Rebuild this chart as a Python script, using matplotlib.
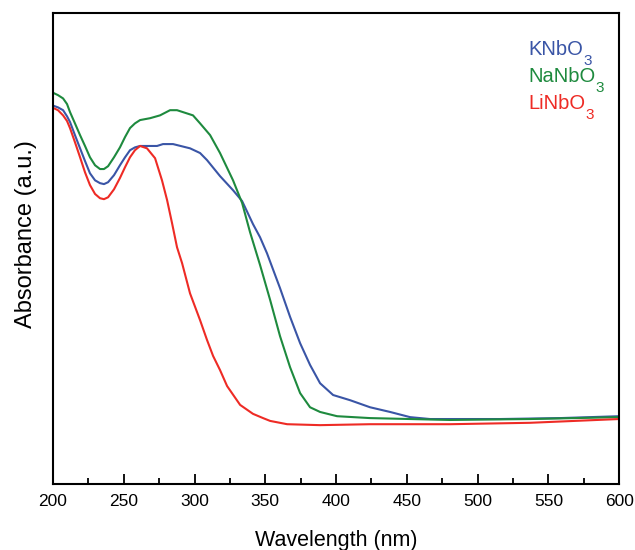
import matplotlib
matplotlib.use("Agg")
import matplotlib.pyplot as plt
from matplotlib.ticker import MultipleLocator

# UV-vis absorbance spectra of alkali niobates (arbitrary units)
wl_k = [200.7, 203.5, 207.1, 209.9, 212.0, 215.5, 219.1, 222.6, 226.1, 229.7,
        233.2, 236.0, 238.9, 243.1, 247.3, 250.9, 254.4, 257.9, 261.5, 273.5,
        277.7, 284.8, 296.8, 303.9, 308.8, 318.0, 327.2, 333.6, 341.3, 346.3,
        351.2, 360.4, 367.5, 374.6, 381.6, 388.7, 397.9, 409.9, 424.0, 438.2,
        452.3, 466.4, 515.9, 558.3, 600.0]
abs_k = [0.803, 0.800, 0.794, 0.781, 0.769, 0.741, 0.713, 0.686, 0.660, 0.645,
         0.639, 0.637, 0.641, 0.656, 0.677, 0.694, 0.709, 0.715, 0.718, 0.718,
         0.722, 0.722, 0.713, 0.703, 0.688, 0.654, 0.624, 0.601, 0.552, 0.524,
         0.490, 0.416, 0.355, 0.299, 0.253, 0.214, 0.189, 0.178, 0.163, 0.153,
         0.142, 0.138, 0.138, 0.140, 0.144]

wl_na = [200.7, 203.5, 207.1, 209.9, 212.0, 215.5, 219.1, 222.6, 226.1, 229.7,
         233.2, 236.0, 238.9, 243.1, 247.3, 250.9, 254.4, 257.9, 261.5, 268.6,
         275.6, 282.7, 287.6, 298.9, 303.9, 311.0, 318.0, 327.2, 333.6, 339.2,
         346.3, 353.4, 360.4, 367.5, 374.6, 381.6, 388.7, 400.7, 424.0, 480.6,
         537.1, 600.0]
abs_na = [0.830, 0.826, 0.819, 0.807, 0.790, 0.766, 0.741, 0.718, 0.694, 0.677,
          0.669, 0.669, 0.675, 0.694, 0.715, 0.737, 0.756, 0.766, 0.773, 0.777,
          0.783, 0.794, 0.794, 0.783, 0.766, 0.741, 0.703, 0.645, 0.597, 0.535,
          0.465, 0.391, 0.314, 0.248, 0.193, 0.163, 0.153, 0.144, 0.140, 0.136,
          0.138, 0.142]

wl_li = [200.7, 203.5, 207.1, 209.9, 212.0, 215.5, 219.1, 222.6, 226.1, 229.7,
         233.2, 236.0, 238.9, 243.1, 247.3, 250.9, 254.4, 257.9, 261.5, 266.4,
         272.1, 277.0, 280.6, 284.1, 287.6, 291.2, 296.8, 303.9, 308.8, 313.1,
         318.0, 323.0, 332.2, 341.3, 348.4, 353.4, 365.4, 388.7, 424.0, 480.6,
         537.1, 600.0]
abs_li = [0.798, 0.794, 0.783, 0.771, 0.756, 0.726, 0.694, 0.662, 0.635, 0.616,
          0.607, 0.605, 0.609, 0.626, 0.650, 0.673, 0.694, 0.709, 0.718, 0.713,
          0.692, 0.645, 0.603, 0.554, 0.503, 0.469, 0.405, 0.348, 0.306, 0.272,
          0.242, 0.208, 0.168, 0.149, 0.140, 0.134, 0.127, 0.125, 0.127, 0.127,
          0.130, 0.138]

names = ["KNbO", "NaNbO", "LiNbO"]
colors = ["#3a55a6", "#1e8a3e", "#ee2b25"]

plt.rcParams['font.family'] = ['Liberation Sans', 'DejaVu Sans']

fig = plt.figure(figsize=(6.35, 5.5), dpi=100)
ax = fig.add_axes([0.0835, 0.12, 0.8915, 0.856])

for x, y, c in zip([wl_k, wl_na, wl_li], [abs_k, abs_na, abs_li], colors):
    ax.plot(x, y, color=c, lw=1.5)

ax.set_xlim(200, 600)
ax.set_ylim(0, 1)
ax.xaxis.set_major_locator(MultipleLocator(50))
ax.xaxis.set_minor_locator(MultipleLocator(25))
ax.tick_params(axis='x', which='major', direction='in', length=7, width=1.3,
               labelsize=12.5, pad=7)
ax.tick_params(axis='x', which='minor', direction='in', length=4, width=1.3)
ax.set_yticks([])
for s in ax.spines.values():
    s.set_linewidth(1.5)

ax.set_xlabel("Wavelength (nm)", fontsize=15.5, labelpad=15)
ax.set_ylabel("Absorbance (a.u.)", fontsize=17)
ax.yaxis.set_label_coords(-0.028, 0.53)

# formula labels with a dropped subscript 3
for i, (name, c) in enumerate(zip(names, colors)):
    t = ax.text(0.839, 0.911 - i * 0.057, name, color=c, fontsize=14.5,
                transform=ax.transAxes, va='baseline', ha='left')
    ax.annotate("3", xy=(1, 0), xycoords=t, xytext=(0.5, 3.5),
                textcoords='offset points', color=c, fontsize=11,
                va='top', ha='left')

fig.savefig("out.png", dpi=100)
